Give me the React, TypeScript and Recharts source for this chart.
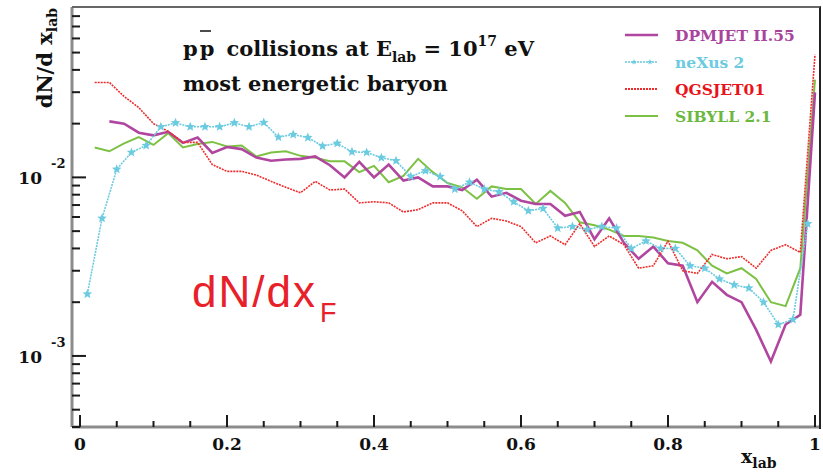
import React from 'react';
import { LineChart, Line, XAxis, YAxis, Legend } from 'recharts';

// bin centres
const xOdd = [
  0.01, 0.03, 0.05, 0.07, 0.09, 0.11, 0.13, 0.15, 0.17, 0.19,
  0.21, 0.23, 0.25, 0.27, 0.29, 0.31, 0.33, 0.35, 0.37, 0.39,
  0.41, 0.43, 0.45, 0.47, 0.49, 0.51, 0.53, 0.55, 0.57, 0.59,
  0.61, 0.63, 0.65, 0.67, 0.69, 0.71, 0.73, 0.75, 0.77, 0.79,
  0.81, 0.83, 0.85, 0.87, 0.89, 0.91, 0.93, 0.95, 0.97, 0.99,
];
const xEven = [
  0.02, 0.04, 0.06, 0.08, 0.1, 0.12, 0.14, 0.16, 0.18, 0.2,
  0.22, 0.24, 0.26, 0.28, 0.3, 0.32, 0.34, 0.36, 0.38, 0.4,
  0.42, 0.44, 0.46, 0.48, 0.5, 0.52, 0.54, 0.56, 0.58, 0.6,
  0.62, 0.64, 0.66, 0.68, 0.7, 0.72, 0.74, 0.76, 0.78, 0.8,
  0.82, 0.84, 0.86, 0.88, 0.9, 0.92, 0.94, 0.96, 0.98, 1.0,
];

// DPMJET starts at x = 0.04
const dpmjet = [
  0.0206, 0.02, 0.0178, 0.0172, 0.018, 0.0156, 0.0167, 0.0137, 0.0148,
  0.0144, 0.0129, 0.0124, 0.0126, 0.0127, 0.0131, 0.0117, 0.01, 0.0122, 0.01,
  0.0118, 0.0096, 0.01, 0.0089, 0.0089, 0.0085, 0.0097, 0.0078, 0.0082, 0.0074,
  0.0071, 0.0071, 0.0061, 0.0064, 0.0045, 0.0059, 0.0043, 0.0035, 0.0041, 0.0033,
  0.0032, 0.002, 0.0026, 0.0022, 0.002, 0.0014, 0.00093, 0.0015, 0.0017, 0.0299,
];
const nexus = [
  0.00222, 0.0059, 0.0111, 0.0138, 0.0151, 0.0192, 0.0202, 0.0192, 0.0192, 0.0192,
  0.0202, 0.0192, 0.0203, 0.0168, 0.0174, 0.0167, 0.015, 0.0155, 0.0139, 0.0138,
  0.0129, 0.0124, 0.0101, 0.0109, 0.0101, 0.0086, 0.0094, 0.0086, 0.0083, 0.0073,
  0.0065, 0.0067, 0.0052, 0.0053, 0.0051, 0.0053, 0.0052, 0.004, 0.0044, 0.004,
  0.004, 0.0032, 0.0031, 0.0027, 0.0025, 0.0024, 0.002, 0.0015, 0.0016, 0.0055,
];
const qgsjet = [
  0.034, 0.034, 0.0284, 0.0246, 0.02, 0.0181, 0.0157, 0.0157, 0.0118, 0.0108,
  0.0108, 0.0103, 0.0095, 0.0088, 0.0082, 0.0095, 0.0085, 0.0086, 0.0072, 0.0073,
  0.0072, 0.0064, 0.0066, 0.0072, 0.0072, 0.0065, 0.0053, 0.0059, 0.0057, 0.0053,
  0.0043, 0.0047, 0.0042, 0.0055, 0.0041, 0.0047, 0.0042, 0.0031, 0.0032, 0.0044,
  0.003, 0.0029, 0.0037, 0.0035, 0.0036, 0.0031, 0.0039, 0.0042, 0.0038, 0.0487,
];
const sibyll = [
  0.0147, 0.014, 0.0155, 0.0168, 0.0152, 0.0177, 0.0147, 0.0154, 0.0158, 0.0149,
  0.0151, 0.0131, 0.0138, 0.014, 0.0132, 0.0129, 0.0123, 0.0123, 0.0107, 0.0116,
  0.0094, 0.0102, 0.0127, 0.0107, 0.0093, 0.0088, 0.0076, 0.0089, 0.0086, 0.0086,
  0.0071, 0.0084, 0.0072, 0.0056, 0.0054, 0.0051, 0.0047, 0.0047, 0.0046, 0.0044,
  0.0043, 0.0039, 0.0032, 0.0029, 0.0031, 0.0027, 0.002, 0.0019, 0.0031, 0.0353,
];

const xTicks = [
  0, 0.05, 0.1, 0.15, 0.2, 0.25, 0.3, 0.35, 0.4, 0.45, 0.5,
  0.55, 0.6, 0.65, 0.7, 0.75, 0.8, 0.85, 0.9, 0.95, 1,
];
const xLabels: Record<string, string> = { '0': '0', '0.2': '0.2', '0.4': '0.4', '0.6': '0.6', '0.8': '0.8', '1': '1' };
const yTicks = [
  0.0004, 0.0005, 0.0006, 0.0007, 0.0008, 0.0009, 0.001,
  0.002, 0.003, 0.004, 0.005, 0.006, 0.007, 0.008, 0.009, 0.01,
  0.02, 0.03, 0.04, 0.05, 0.06, 0.07, 0.08, 0.09,
];
const yLabels: Record<string, string> = { '0.001': '-3', '0.01': '-2' };

const series = [
  { name: 'DPMJET II.55', color: '#b0469f', text: '#a8449e' },
  { name: 'neXus 2', color: '#6ccbe0', text: '#6ccbe0' },
  { name: 'QGSJET01', color: '#ee2c2c', text: '#e8141b' },
  { name: 'SIBYLL 2.1', color: '#7cc144', text: '#6cb83f' },
];

const zip = (xs: number[], ys: number[]) => ys.map((y, i) => ({ x: xs[i], y }));
const dpmData = zip(xEven.slice(1), dpmjet);
const nexData = zip(xOdd, nexus);
const qgsData = zip(xEven, qgsjet);
const sibData = zip(xEven, sibyll);

const serif = '"DejaVu Serif", serif';

const starPath = (cx: number, cy: number, R: number, r: number) => {
  let d = '';
  for (let i = 0; i < 10; i++) {
    const a = -Math.PI / 2 + (i * Math.PI) / 5;
    const rad = i % 2 === 0 ? R : r;
    d += `${i === 0 ? 'M' : 'L'}${cx + rad * Math.cos(a)},${cy + rad * Math.sin(a)}`;
  }
  return d + 'Z';
};

const StarDot = (props: any) => {
  const { cx, cy, key } = props;
  if (cx == null || cy == null) return <g key={key} />;
  return <path key={key} d={starPath(cx, cy, 5, 2.2)} fill="#6ccbe0" />;
};

const renderXTick = (props: any) => {
  const { x, y, payload } = props;
  const lbl = xLabels[String(payload.value)];
  return (
    <g>
      <line x1={x} x2={x} y1={y} y2={y - (lbl ? 12 : 6)} stroke="#1a1a1a" strokeWidth={2} />
      {lbl && (
        <text x={x} y={y + 23} textAnchor="middle" fontFamily={serif} fontWeight="bold" fontSize={17} fill="#111">
          {lbl}
        </text>
      )}
    </g>
  );
};

const renderYTick = (props: any) => {
  const { x, y, payload } = props;
  const exp = yLabels[String(payload.value)];
  return (
    <g>
      <line x1={x} x2={x + (exp ? 14 : 8)} y1={y} y2={y} stroke="#1a1a1a" strokeWidth={2} />
      {exp && (
        <text fontFamily={serif} fontWeight="bold" fill="#111">
          <tspan x={42} y={y + 7} textAnchor="end" fontSize={17}>10</tspan>
          <tspan x={51} y={y - 9} fontSize={13}>{exp}</tspan>
        </text>
      )}
    </g>
  );
};

const renderLegend = () => (
  <svg width={200} height={110}>
    {series.map((s, i) => {
      const cy = 13 + i * 27;
      return (
        <g key={s.name}>
          {i === 1 ? (
            <g>
              <line x1={5} x2={38} y1={cy} y2={cy} stroke={s.color} strokeWidth={1.6} strokeDasharray="2 1" />
              <path d={starPath(14, cy, 3, 1.3)} fill={s.color} />
              <path d={starPath(30, cy, 3, 1.3)} fill={s.color} />
            </g>
          ) : (
            <line
              x1={5}
              x2={38}
              y1={cy}
              y2={cy}
              stroke={s.color}
              strokeWidth={i === 0 ? 2.5 : 1.8}
              strokeDasharray={i === 2 ? '2 1' : undefined}
            />
          )}
          <text x={55} y={cy + 5.5} fontFamily={serif} fontWeight="bold" fontSize={15.5} fill={s.text}>
            {s.name}
          </text>
        </g>
      );
    })}
  </svg>
);

export default function App() {
  return (
    <div style={{ position: 'absolute', left: 0, top: 0, width: 823, height: 474, background: '#fff' }}>
      <LineChart width={823} height={474} margin={{ top: 7, right: 3, bottom: 0, left: 0 }}>
        <XAxis
          dataKey="x"
          type="number"
          domain={[0, 1]}
          ticks={xTicks}
          interval={0}
          padding={{ left: 8, right: 5 }}
          height={47}
          tickSize={0}
          tickMargin={0}
          tickLine={false}
          axisLine={{ stroke: '#8c8c8c', strokeWidth: 3 }}
          tick={renderXTick}
        />
        <YAxis
          type="number"
          scale="log"
          domain={[0.0004, 0.09]}
          allowDataOverflow
          ticks={yTicks}
          interval={0}
          width={72}
          tickSize={0}
          tickMargin={0}
          tickLine={false}
          axisLine={{ stroke: '#8c8c8c', strokeWidth: 3 }}
          tick={renderYTick}
        />
        <Legend
          content={renderLegend}
          layout="horizontal"
          verticalAlign="middle"
          align="center"
          wrapperStyle={{ position: 'absolute', left: 620, top: 22, width: 200, height: 110 }}
        />
        <Line data={sibData} dataKey="y" type="linear" stroke="#7cc144" strokeWidth={2} dot={false} isAnimationActive={false} />
        <Line data={dpmData} dataKey="y" type="linear" stroke="#b0469f" strokeWidth={2.6} dot={false} isAnimationActive={false} />
        <Line
          data={nexData}
          dataKey="y"
          type="linear"
          stroke="#6ccbe0"
          strokeWidth={1.6}
          strokeDasharray="2 1"
          dot={StarDot}
          isAnimationActive={false}
        />
        <Line
          data={qgsData}
          dataKey="y"
          type="linear"
          stroke="#ee2c2c"
          strokeWidth={1.6}
          strokeDasharray="2 1"
          dot={false}
          isAnimationActive={false}
        />
      </LineChart>

      {/* frame top / right */}
      <div
        style={{
          position: 'absolute',
          left: 72,
          top: 6,
          width: 747,
          height: 421,
          borderTop: '2px solid #666',
          borderRight: '2px solid #222',
          pointerEvents: 'none',
        }}
      />

      <svg width={823} height={474} style={{ position: 'absolute', left: 0, top: 0, pointerEvents: 'none' }}>
        {/* y axis title */}
        <text
          transform="translate(52,8) rotate(-90)"
          textAnchor="end"
          fontFamily={serif}
          fontWeight="bold"
          fontSize={21}
          fill="#111"
        >
          dN/d x<tspan dy={5} fontSize={14}>lab</tspan>
        </text>
        {/* x axis title */}
        <text x={741} y={463} fontFamily={serif} fontWeight="bold" fontSize={19} fill="#111">
          x<tspan dy={5} fontSize={14}>lab</tspan>
        </text>
        {/* plot caption */}
        <text x={183} y={56} fontFamily={serif} fontWeight="bold" fontSize={21} fill="#111">
          p<tspan dx={2}>p</tspan>
          <tspan dx={12}>collisions at E</tspan>
          <tspan dy={6} fontSize={14}>lab</tspan>
          <tspan dy={-6}> = 10</tspan>
          <tspan dy={-10} fontSize={14}>17</tspan>
          <tspan dy={10}> eV</tspan>
        </text>
        <line x1={200} x2={211} y1={31} y2={31} stroke="#111" strokeWidth={1.5} />
        <text x={183} y={91} fontFamily={serif} fontWeight="bold" fontSize={21} fill="#111">
          most energetic baryon
        </text>
        <text
          x={192}
          y={307}
          fontFamily='"Liberation Sans", Arial, sans-serif'
          fontSize={44}
          letterSpacing={2}
          fill="#e8202a"
        >
          dN/dx<tspan dx={3} dy={15} fontSize={27} letterSpacing={0}>F</tspan>
        </text>
      </svg>
    </div>
  );
}
